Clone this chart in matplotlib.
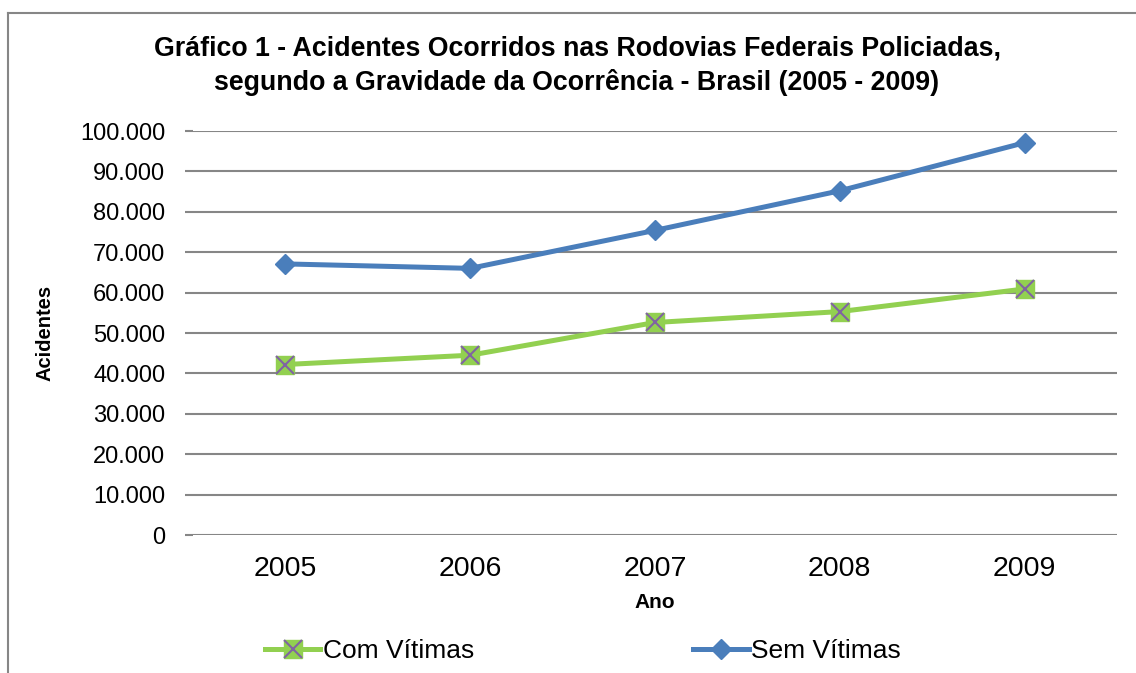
import matplotlib
matplotlib.use("Agg")
import matplotlib.pyplot as plt
from matplotlib.ticker import FuncFormatter
from matplotlib.lines import Line2D

plt.rcParams['font.family'] = ['Liberation Sans', 'DejaVu Sans']

# dados
anos = ['2005', '2006', '2007', '2008', '2009']
com_vitimas = [42200, 44500, 52600, 55300, 60900]
sem_vitimas = [67100, 66000, 75400, 85200, 97100]
y_ticks = list(range(0, 100001, 10000))

W, H = 1136, 673
fig = plt.figure(figsize=(W / 100, H / 100), dpi=100)

# moldura externa (so esquerda e topo aparecem)
fig.lines.append(Line2D([8 / W, 8 / W], [0, 1 - 13 / H], transform=fig.transFigure,
                        color='#868686', lw=1.5))
fig.lines.append(Line2D([8 / W, 1], [1 - 13 / H, 1 - 13 / H], transform=fig.transFigure,
                        color='#868686', lw=1.5))

ax = fig.add_axes([193 / W, 1 - 535 / H, (1117 - 193) / W, (535 - 131) / H])

x = list(range(len(anos)))
ax.plot(x, sem_vitimas, color='#4A7EBB', lw=3.6, marker='D', markersize=10.5,
        markerfacecolor='#4A7EBB', markeredgecolor='#4A7EBB', zorder=3)
ax.plot(x, com_vitimas, color='#92D050', lw=3.6, marker='s', markersize=12.5,
        markerfacecolor='#92D050', markeredgecolor='#92D050', zorder=3)
ax.plot(x, com_vitimas, ls='none', marker='x', markersize=12.5, markeredgewidth=1.5,
        color='#8064A2', zorder=4)

ax.set_xlim(-0.5, len(anos) - 0.5)
ax.set_ylim(0, 100000)
ax.set_yticks(y_ticks)
ax.yaxis.set_major_formatter(FuncFormatter(lambda v, p: '{:,.0f}'.format(v).replace(',', '.')))
ax.set_xticks(x)
ax.set_xticklabels(anos)
ax.grid(axis='y', color='#868686', lw=1.5)
ax.set_axisbelow(True)
for s in ax.spines.values():
    s.set_visible(False)
ax.tick_params(axis='y', length=6, width=1.5, color='#868686', labelsize=17, pad=14)
ax.tick_params(axis='x', length=0, labelsize=20.5, pad=15)

ax.set_xlabel('Ano', fontsize=15, fontweight='bold', labelpad=8)
ax.set_ylabel('Acidentes', fontsize=14.5, fontweight='bold', labelpad=18)

fig.text(577 / W, 1 - 66 / H,
         'Gráfico 1 - Acidentes Ocorridos nas Rodovias Federais Policiadas,\n'
         'segundo a Gravidade da Ocorrência - Brasil (2005 - 2009)',
         ha='center', va='center', fontsize=19.3, fontweight='bold', linespacing=1.38)

h_com_l = Line2D([], [], color='#92D050', lw=3.6, marker='s', markersize=12.5,
                 markerfacecolor='#92D050', markeredgecolor='#92D050')
h_com_x = Line2D([], [], ls='none', marker='x', markersize=12.5, markeredgewidth=1.5,
                 color='#8064A2')
h_sem = Line2D([], [], color='#4A7EBB', lw=3.6, marker='D', markersize=10.5)
fig.legend([(h_com_l, h_com_x), h_sem], ['Com Vítimas', 'Sem Vítimas'], loc='center',
           bbox_to_anchor=(583 / W, 1 - 651 / H), ncol=2, frameon=False,
           fontsize=19, handlelength=2.1, handletextpad=0.1, columnspacing=8.3)

fig.savefig('out.png', dpi=100)
